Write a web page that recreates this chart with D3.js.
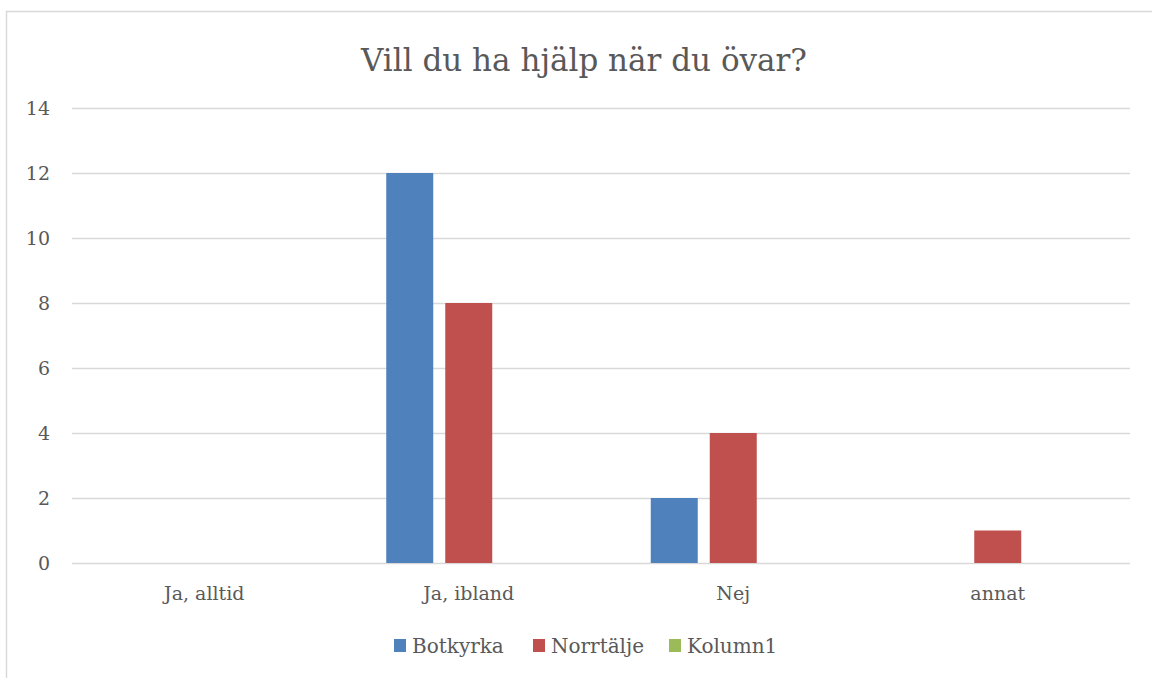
<!DOCTYPE html>
<html><head><meta charset="utf-8">
<script src="https://cdn.jsdelivr.net/npm/d3@7"></script>
<style>body{margin:0;background:#fff;} text{font-family:"DejaVu Serif",serif;fill:#595959;}</style>
</head><body>
<svg id="c" width="1152" height="678"></svg>
<script>
const categories = ["Ja, alltid", "Ja, ibland", "Nej", "annat"];
const seriesNames = ["Botkyrka", "Norrtälje", "Kolumn1"];
const botkyrka = [0, 12, 2, 0];
const norrtalje = [0, 8, 4, 1];
const kolumn1 = [0, 0, 0, 0];
const yTicks = [0, 2, 4, 6, 8, 10, 12, 14];
const colors = ["#4F81BD", "#C0504D", "#9BBB59"];
const title = "Vill du ha hjälp när du övar?";

const seriesVals = [botkyrka, norrtalje, kolumn1];
const svg = d3.select("#c");
svg.append("rect").attr("x", 6.5).attr("y", 11.5).attr("width", 1160).attr("height", 700)
  .attr("fill", "none").attr("stroke", "#D9D9D9").attr("stroke-width", 1.5);

const L = 72, R = 1130, T = 108, B = 563;
const x = d3.scaleBand().domain(categories).range([L, R]);
const y = d3.scaleLinear().domain([0, 14]).range([B, T]);
const bw = 47, gap = 12;
const inner = d3.scaleBand().domain(seriesNames).range([0, 3 * bw + 2 * gap]).paddingInner(gap / (bw + gap));

svg.append("g").selectAll("line").data(yTicks).join("line")
  .attr("x1", L).attr("x2", R).attr("y1", d => Math.round(y(d)) + 0.5).attr("y2", d => Math.round(y(d)) + 0.5)
  .attr("stroke", "#D9D9D9").attr("stroke-width", 1.5);

svg.append("g").selectAll("text").data(yTicks).join("text")
  .attr("x", 50).attr("y", d => y(d)).attr("dy", "0.35em").attr("text-anchor", "end")
  .attr("font-size", 19).text(d => d);

const groupW = 3 * bw + 2 * gap;
seriesNames.forEach((s, si) => {
  svg.append("g").selectAll("rect").data(categories).join("rect")
    .attr("x", d => x(d) + x.bandwidth() / 2 - groupW / 2 + inner(s))
    .attr("width", inner.bandwidth())
    .attr("y", (d, i) => y(seriesVals[si][i]))
    .attr("height", (d, i) => y(0) - y(seriesVals[si][i]))
    .attr("fill", colors[si]);
});

svg.append("g").selectAll("text").data(categories).join("text")
  .attr("x", d => x(d) + x.bandwidth() / 2).attr("y", 600).attr("text-anchor", "middle")
  .attr("font-size", 19).text(d => d);

svg.append("text").attr("x", 584).attr("y", 71).attr("text-anchor", "middle")
  .attr("font-size", 31).text(title);

const legX = [394, 533, 669];
const lg = svg.append("g");
seriesNames.forEach((s, i) => {
  lg.append("rect").attr("x", legX[i]).attr("y", 639).attr("width", 12).attr("height", 13).attr("fill", colors[i]);
  lg.append("text").attr("x", legX[i] + 18).attr("y", 653).attr("font-size", 20).text(s);
});
</script>
</body></html>
